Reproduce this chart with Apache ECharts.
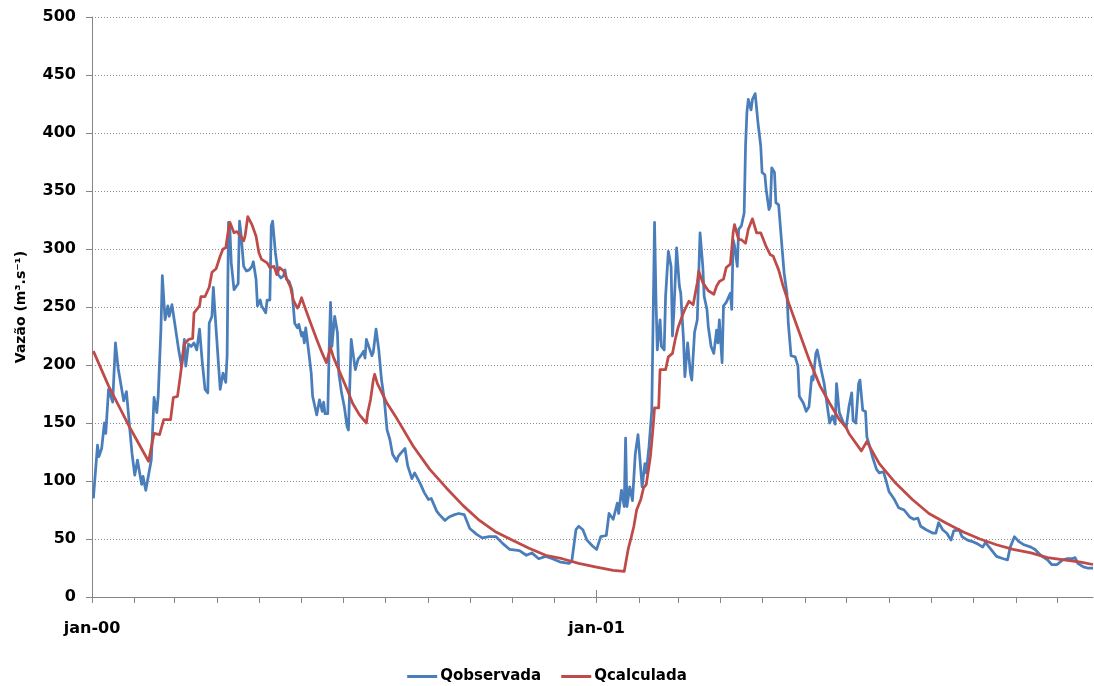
<!DOCTYPE html>
<html>
<head>
<meta charset="utf-8">
<script src="https://cdn.jsdelivr.net/npm/echarts@6/dist/echarts.min.js"></script>
<style>
html,body{margin:0;padding:0;background:#fff;}
#chart{width:1094px;height:686px;}
</style>
</head>
<body>
<div id="chart"></div>
<script>
// Days counted from 1 Jan 2000
const monthStartDays = [0,31,60,91,121,152,182,213,244,274,305,335,366,397,425,456,486,517,547,578,609,639,670,700];
const yearStartDays = [0,366];
const yearLabels = {0:'jan-00',366:'jan-01'};

const obsDays = [1,4,5,7,9,10,12,15,17,19,20,23,25,27,29,31,33,34,36,37,39,43,45,47,48,50,51,53,55,56,58,60,63,65,67,68,70,72,74,76,77,78,80,82,84,85,87,88,90,92,93,95,97,98,99,100,101,103,106,107,108,110,112,114,116,117,119,120,122,123,
126,127,129,130,131,133,134,135,137,139,140,141,143,145,146,147,149,150,152,153,154,155,157,159,160,163,165,167,168,169,171,172,173,174,176,178,179,181,183,185,186,188,189,191,193,195,197,198,199,201,203,204,206,208,210,212,214,216,218,221,222,224,227,229,232,234,238,241,244,246,250,252,256,259,263,266,270,274,279,283,288,293,298,303,310,315,319,324,329,334,340,346,348,351,353,356,359,363,366,369,373,
375,378,381,382,384,386,387,388,390,392,394,396,399,401,402,404,406,408,409,410,412,413,415,416,418,420,421,422,424,426,427,429,430,432,434,435,437,439,441,443,444,446,447,449,451,453,454,455,457,458,460,463,464,465,466,468,469,471,473,474,475,476,478,479,481,483,485,486,488,489,491,492,493,495,496,498,500,502,504,505,507,510,512,513,516,518,520,522,523,525,526,529,531,533,535,537,539,540,542,545,547,549,551,552,554,556,557,559,561,562,564,566,569,571,574,576,578,582,585,589,593,596,599,601,605,610,612,614,617,620,623,625,
629,631,635,638,642,646,648,652,656,661,664,666,669,672,676,681,684,688,693,696,700,704,707,711,713,715,719,722,726];
const obsValues = [85,131,121,128,150,141,179,168,219,197,196,169,177,150,124,105,118,117,97,104,92,118,172,159,173,231,277,239,251,242,252,236,212,199,222,199,218,216,219,213,222,231,202,179,176,236,242,267,231,196,179,193,185,208,323,317,288,265,270,324,314,285,281,282,285,289,274,251,256,251,
245,256,256,320,324,297,288,278,275,277,282,274,272,265,251,236,232,235,225,228,219,232,213,193,173,157,170,160,168,158,158,213,254,216,242,228,193,176,164,147,144,222,213,196,205,208,212,206,222,215,208,211,231,213,187,170,144,136,123,117,121,124,128,113,102,107,98,90,84,85,74,71,66,69,71,72,71,59,54,51,52,52,46,41,40,36,38,33,35,33,30,29,31,58,61,58,49,44,41,52,53,
72,67,81,72,92,78,137,78,95,83,123,140,95,115,107,130,161,323,259,213,239,216,213,259,298,285,225,245,301,268,262,222,190,219,193,187,228,239,314,285,259,248,233,216,210,230,219,239,202,251,254,262,248,308,303,285,317,320,331,389,418,429,420,429,434,409,389,366,364,351,334,337,370,366,340,338,308,279,262,236,208,207,199,173,167,160,164,190,187,210,213,195,184,167,150,156,149,184,159,150,146,164,176,152,150,184,187,161,160,138,130,121,110,107,108,100,91,84,77,75,69,67,68,61,58,55,55,64,58,55,49,57,
58,52,49,48,46,43,47,41,35,33,32,43,52,48,45,43,41,36,32,28,28,32,33,33,34,29,26,25,25];

const calcDays = [1,12,27,41,45,49,52,57,59,62,64,67,70,73,74,78,79,82,85,87,90,93,95,97,99,100,103,105,108,110,111,113,116,119,121,123,
127,129,132,134,136,139,141,144,146,149,150,152,154,158,163,167,170,171,173,175,180,185,189,194,199,200,202,204,205,207,214,221,233,245,257,269,281,293,305,317,329,341,353,365,
378,386,389,391,393,395,398,400,402,405,407,408,411,412,416,418,421,423,425,428,430,433,436,439,440,443,447,451,453,455,458,460,463,465,466,469,471,474,476,479,482,485,487,489,492,494,498,501,506,513,520,528,535,542,547,549,558,562,571,583,595,607,619,
632,644,656,668,681,693,705,717,726];
const calcValues = [212,182,147,117,141,140,153,153,172,173,190,218,222,223,245,251,259,259,267,280,283,294,300,301,317,323,314,315,311,307,311,328,321,311,297,291,
288,284,285,278,284,281,275,267,256,249,251,258,251,238,222,210,202,201,215,207,193,179,167,157,150,159,170,187,192,184,167,154,130,110,94,79,66,56,49,42,36,33,29,26,
23,22,42,51,61,75,84,94,97,121,147,163,163,196,196,207,210,222,232,242,248,255,252,271,281,271,264,261,268,272,274,284,287,314,321,308,308,305,317,326,314,314,308,302,295,294,282,269,251,228,205,182,167,153,146,141,126,134,115,98,84,72,64,
56,50,45,41,38,34,32,30,28];

const yTicks = {min:0, max:500, interval:50};
const seriesNames = ['Qobservada','Qcalculada'];

const obsData = obsDays.map((d,i)=>[d, obsValues[i]]);
const calcData = calcDays.map((d,i)=>[d, calcValues[i]]);

const FONT = 'DejaVu Sans';
const chart = echarts.init(document.getElementById('chart'), null, {renderer:'canvas'});
chart.setOption({
  animation:false,
  backgroundColor:'#ffffff',
  grid:{left:92, right:1, top:17, bottom:89, containLabel:false},
  legend:{
    data:seriesNames.map(n=>({name:n, icon:'rect'})),
    bottom:2, left:'center', padding:0,
    itemWidth:30, itemHeight:3, itemGap:20,
    textStyle:{fontFamily:FONT, fontWeight:'bold', fontSize:15, color:'#000', padding:[0,0,0,-2]}
  },
  xAxis:[{
    type:'value', min:0, max:726,
    axisLine:{show:true, lineStyle:{color:'#868686', width:1}},
    axisTick:{show:true, length:6, lineStyle:{color:'#868686'}, customValues:monthStartDays},
    axisLabel:{show:true, customValues:yearStartDays, margin:24,
      formatter:v=>yearLabels[v]||'',
      fontFamily:FONT, fontWeight:'bold', fontSize:16, color:'#000'},
    splitLine:{show:false}
  },{
    type:'value', min:0, max:726, position:'bottom',
    axisLine:{show:false},
    axisTick:{show:true, inside:true, length:7, lineStyle:{color:'#868686'}, customValues:yearStartDays},
    axisLabel:{show:false},
    splitLine:{show:false}
  }],
  yAxis:{
    type:'value', min:yTicks.min, max:yTicks.max, interval:yTicks.interval,
    name:'Vazão (m³.s⁻¹)', nameLocation:'middle', nameGap:64, nameRotate:90,
    nameTextStyle:{fontFamily:FONT, fontWeight:'bold', fontSize:14, color:'#000'},
    axisLine:{show:true, lineStyle:{color:'#868686', width:1}},
    axisTick:{show:true, length:6, lineStyle:{color:'#868686'}},
    axisLabel:{margin:16, fontFamily:FONT, fontWeight:'bold', fontSize:16, color:'#000'},
    splitLine:{show:true, lineStyle:{color:'#8c8c8c', type:[1,2], width:1}}
  },
  series:[{
    name:seriesNames[0], type:'line', xAxisIndex:0, data:obsData,
    symbol:'none', color:'#4a7ebb',
    lineStyle:{color:'#4a7ebb', width:2.75, join:'round'}
  },{
    name:seriesNames[1], type:'line', xAxisIndex:0, data:calcData,
    symbol:'none', color:'#be4b48',
    lineStyle:{color:'#be4b48', width:2.75, join:'round'}
  }]
});
</script>
</body>
</html>
